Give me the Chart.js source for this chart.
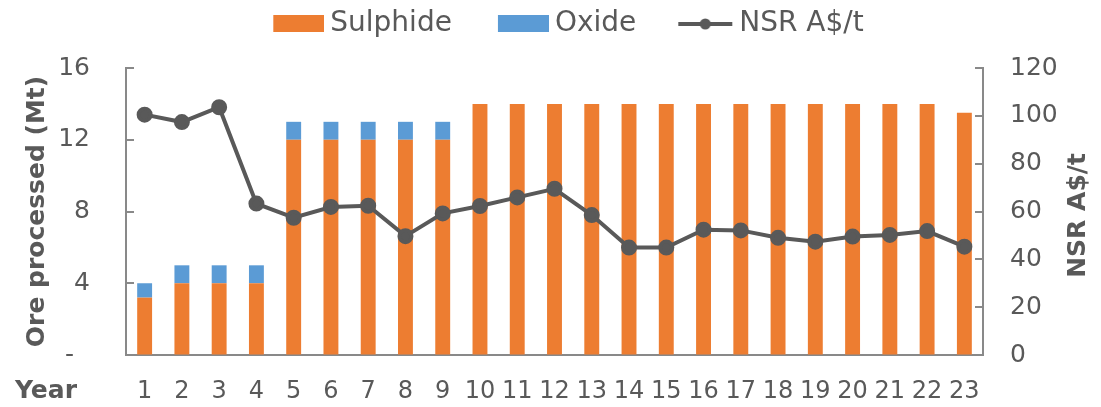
<!DOCTYPE html>
<html>
<head>
<meta charset="utf-8">
<script src="https://cdn.jsdelivr.net/npm/chart.js@4.4.0/dist/chart.umd.min.js"></script>
<style>
  html, body { margin: 0; padding: 0; background: #fff; }
  #wrap { width: 1101px; height: 407px; }
</style>
</head>
<body>
<div id="wrap"><canvas id="myChart"></canvas></div>
<script>
const years = ['1','2','3','4','5','6','7','8','9','10','11','12','13','14','15','16','17','18','19','20','21','22','23'];
const sulphide = [3.2, 4, 4, 4, 12, 12, 12, 12, 12, 14, 14, 14, 14, 14, 14, 14, 14, 14, 14, 14, 14, 14, 13.5];
const oxide = [0.8, 1, 1, 1, 1, 1, 1, 1, 1, 0, 0, 0, 0, 0, 0, 0, 0, 0, 0, 0, 0, 0, 0];
const nsr = [100.5, 97.4, 103.6, 63.3, 57.4, 61.9, 62.4, 49.7, 59.2, 62.3, 65.9, 69.5, 58.5, 44.9, 44.9, 52.4, 52.1, 49.0, 47.4, 49.5, 50.2, 51.8, 45.3];
const leftTicks = [0, 4, 8, 12, 16];
const rightTicks = [0, 20, 40, 60, 80, 100, 120];

const textColor = '#595959';
const axisColor = '#898989';
const fontFamily = '"DejaVu Sans", sans-serif';

// legend icons: content sits at the right end of a wider canvas so the gap before each item matches
const ICON_W = 95;
function swatch(color, kind) {
  const c = document.createElement('canvas');
  c.width = ICON_W; c.height = 20;
  const g = c.getContext('2d');
  if (kind === 'box') {
    g.fillStyle = color;
    g.fillRect(ICON_W - 51, 1, 51, 17);
  } else {
    g.strokeStyle = color; g.lineWidth = 4;
    g.beginPath(); g.moveTo(ICON_W - 55, 10); g.lineTo(ICON_W - 1, 10); g.stroke();
    g.fillStyle = color;
    g.beginPath(); g.arc(ICON_W - 28, 10, 5.5, 0, Math.PI * 2); g.fill();
  }
  return c;
}
const legendIcons = [swatch('#ED7D31', 'box'), swatch('#5B9BD5', 'box'), swatch('#595959', 'line')];

const extras = {
  id: 'extras',
  beforeInit(chart) {
    const lg = chart.legend;
    const fit = lg.fit;
    lg.fit = function () { fit.call(this); this.height = 68; };
  },
  afterDatasetsDraw(chart) {
    const ctx = chart.ctx;
    const y = chart.scales.y, y1 = chart.scales.y1;
    ctx.save();
    ctx.strokeStyle = axisColor;
    ctx.lineWidth = 2;
    leftTicks.forEach(v => {
      const p = Math.round(y.getPixelForValue(v));
      ctx.beginPath(); ctx.moveTo(y.right, p); ctx.lineTo(y.right + 8, p); ctx.stroke();
    });
    rightTicks.forEach(v => {
      const p = Math.round(y1.getPixelForValue(v));
      ctx.beginPath(); ctx.moveTo(y1.left, p); ctx.lineTo(y1.left - 8, p); ctx.stroke();
    });
    ctx.fillStyle = textColor;
    ctx.font = 'bold 25px ' + fontFamily;
    ctx.textBaseline = 'middle';
    ctx.textAlign = 'left';
    ctx.fillText('Year', 15, 391);
    // right axis title reads bottom-to-top like the left one
    ctx.translate(1078, (chart.chartArea.top + chart.chartArea.bottom) / 2 + 4);
    ctx.rotate(-Math.PI / 2);
    ctx.textAlign = 'center';
    ctx.fillText('NSR A$/t', 0, 0);
    ctx.restore();
  }
};

new Chart(document.getElementById('myChart'), {
  data: {
    labels: years,
    datasets: [
      {
        type: 'line',
        label: 'NSR A$/t',
        data: nsr,
        yAxisID: 'y1',
        borderColor: '#595959',
        backgroundColor: '#595959',
        borderWidth: 4,
        pointRadius: 6,
        pointHoverRadius: 6,
        order: 0
      },
      {
        type: 'bar',
        label: 'Sulphide',
        data: sulphide,
        backgroundColor: '#ED7D31',
        stack: 'ore',
        barPercentage: 0.4,
        categoryPercentage: 1,
        order: 1
      },
      {
        type: 'bar',
        label: 'Oxide',
        data: oxide,
        backgroundColor: '#5B9BD5',
        stack: 'ore',
        barPercentage: 0.4,
        categoryPercentage: 1,
        order: 1
      }
    ]
  },
  options: {
    responsive: true,
    maintainAspectRatio: false,
    animation: false,
    layout: { padding: 0 },
    plugins: {
      tooltip: { enabled: false },
      legend: {
        position: 'top',
        labels: {
          usePointStyle: true,
          pointStyleWidth: 79,
          boxHeight: 20,
          padding: 10,
          color: textColor,
          font: { family: fontFamily, size: 28 },
          generateLabels(chart) {
            const order = [1, 2, 0];
            return order.map((i, k) => ({
              text: chart.data.datasets[i].label,
              pointStyle: legendIcons[k],
              fillStyle: 'transparent',
              strokeStyle: 'transparent',
              lineWidth: 0,
              fontColor: textColor,
              datasetIndex: i
            }));
          }
        }
      }
    },
    scales: {
      x: {
        stacked: true,
        grid: { display: false, drawTicks: false },
        border: { color: axisColor, width: 2 },
        ticks: { color: textColor, font: { family: fontFamily, size: 24 }, padding: 22, maxRotation: 0, autoSkip: false },
        afterFit(s) { s.height = 52; }
      },
      y: {
        stacked: true,
        position: 'left',
        min: 0, max: 16,
        afterBuildTicks(s) { s.ticks = leftTicks.map(v => ({ value: v })); },
        grid: { display: true, drawOnChartArea: false, drawTicks: false },
        border: { color: axisColor, width: 2 },
        ticks: {
          color: textColor, font: { family: fontFamily, size: 25 }, padding: 36,
          callback: v => v === 0 ? '-  ' : v
        },
        title: { display: true, text: 'Ore processed (Mt)', color: textColor, font: { family: fontFamily, size: 25, weight: 'bold' }, padding: { top: 22, bottom: 0 } },
        afterFit(s) { s.width = 126; }
      },
      y1: {
        position: 'right',
        min: 0, max: 120,
        afterBuildTicks(s) { s.ticks = rightTicks.map(v => ({ value: v })); },
        grid: { display: true, drawOnChartArea: false, drawTicks: false },
        border: { color: axisColor, width: 2 },
        ticks: { color: textColor, font: { family: fontFamily, size: 25 }, padding: 27 },
        afterFit(s) { s.width = 118; }
      }
    }
  },
  plugins: [extras]
});
</script>
</body>
</html>
